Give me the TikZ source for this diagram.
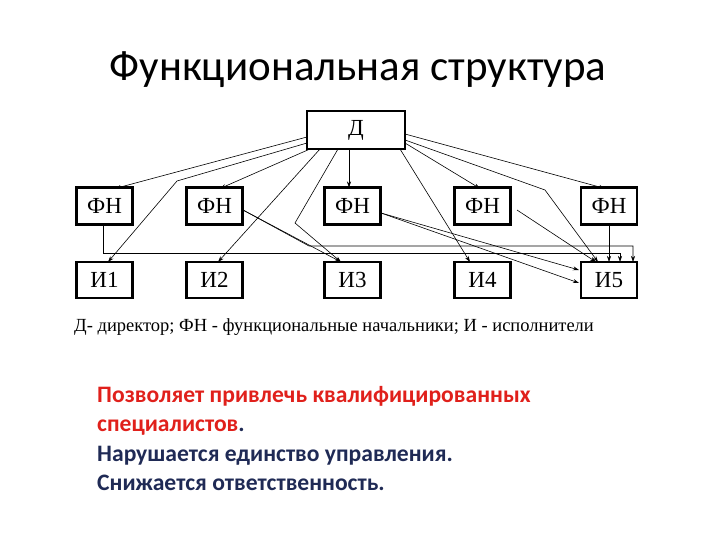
\documentclass[tikz,border=0pt]{standalone}
\usepackage{fontspec}
\setmainfont{Carlito}
\newfontfamily\tms{Liberation Serif}
\usetikzlibrary{arrows.meta}
\begin{document}
\begin{tikzpicture}[x=1pt,y=-1pt,
  bx/.style={draw,line width=2.8pt,inner sep=0pt,font=\tms\fontsize{23}{23}\selectfont},
  ar/.style={-{Stealth[length=6pt,width=4pt]},line width=0.6pt}]
\useasboundingbox (0,0) rectangle (720,540);
\node at (358,70) {\fontsize{43}{45}\selectfont Функциональная структура};
\node[bx,minimum width=98pt,minimum height=38pt] (d) at (356,130) {Д};
\foreach \n/\x in {1/104.5,2/214.5,3/352.5,4/482.5,5/609} {
  \node[bx,minimum width=56pt,minimum height=37pt] (f\n) at (\x,206) {ФН};
}
\foreach \n/\x in {1/104.5,2/214.5,3/352.5,4/482.5,5/609} {
  \node[bx,minimum width=56pt,minimum height=36pt] (i\n) at (\x,280) {И\n};
}
\coordinate (b1) at (177,181);
\coordinate (b3) at (295,223);
\coordinate (b5) at (545,190);
\coordinate (h1) at (103,253);
\coordinate (h2) at (620,253);
\coordinate (g1) at (309,246);
\coordinate (g2) at (633,246);
\draw[ar] (307,137) -- (115,188.5);
\draw[ar] (307,143) -- (b1) -- (108,262);
\draw[ar] (310,149) -- (220,188.5);
\draw[ar] (320,149) -- (218,262);
\draw[ar] (349,149) -- (349,187.5);
\draw[ar] (338,149) -- (b3) -- (341,262);
\draw[ar] (400,149) -- (470,262);
\draw[ar] (405,143) -- (480,188.5);
\draw[ar] (405,140) -- (b5) -- (598,262);
\draw[ar] (405,134) -- (605,188.5);
\draw[ar] (103,224.5) -- (h1) -- (h2) -- (620,262);
\draw[ar] (243,210) -- (g1) -- (g2) -- (633,262);
\draw[ar] (243,210) -- (341,262);
\draw[ar] (381,213) -- (579,270);
\draw[ar] (381,213) -- (579,283);
\draw[ar] (517,210) -- (596,262);
\draw[ar] (609,224.5) -- (609,262);
\node[anchor=west,inner sep=0pt] (cap) at (74,327) {\tms\fontsize{18.5}{19}\selectfont Д- директор; ФН - функциональные начальники; И - исполнители};
\node[anchor=north west,align=left,inner sep=0pt,font=\bfseries\fontsize{23.6}{29.5}\selectfont] (txt) at (97,386) {%
\textcolor[HTML]{E0201B}{Позволяет привлечь квалифицированных}\\
\textcolor[HTML]{E0201B}{специалистов}\textcolor[HTML]{1F2A55}{.}\\
\textcolor[HTML]{1F2A55}{Нарушается единство управления.}\\
\textcolor[HTML]{1F2A55}{Снижается ответственность.}};
\end{tikzpicture}
\end{document}
